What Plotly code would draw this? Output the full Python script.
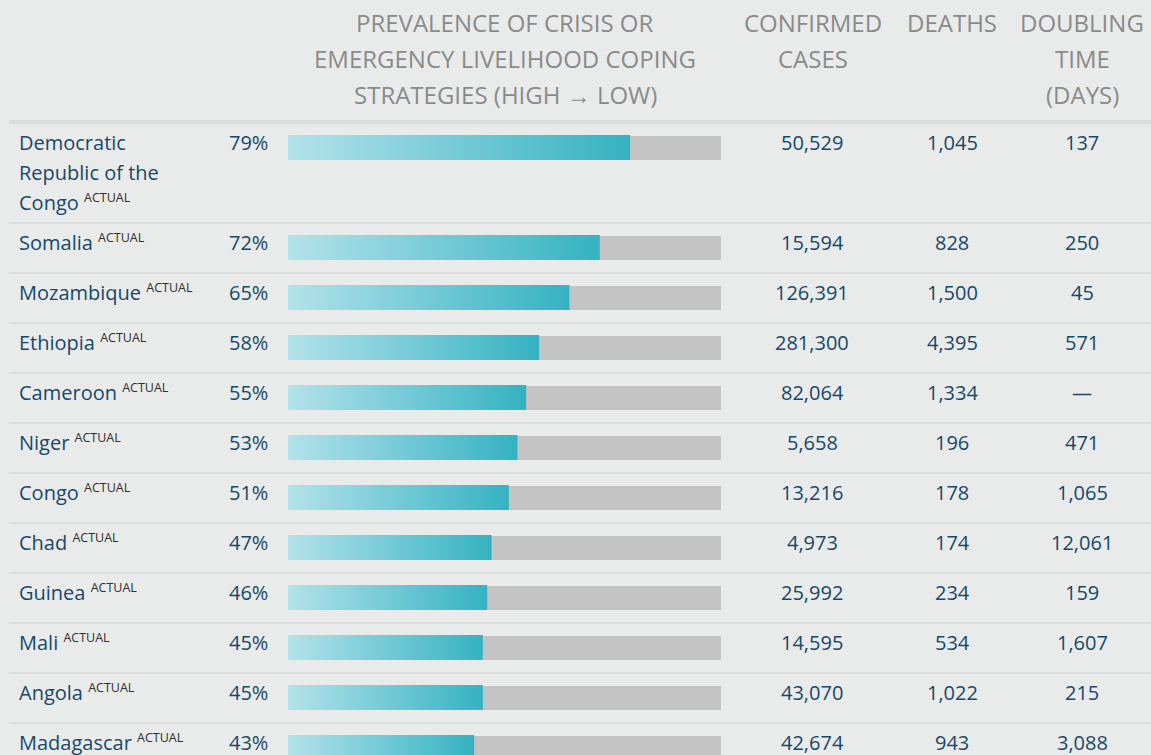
import plotly.graph_objects as go

# ---------------- data ----------------
countries = [
    "Democratic<br>Republic of the<br>Congo", "Somalia", "Mozambique", "Ethiopia",
    "Cameroon", "Niger", "Congo", "Chad", "Guinea", "Mali", "Angola", "Madagascar",
]
status = ["ACTUAL"] * 12
prevalence = [79, 72, 65, 58, 55, 53, 51, 47, 46, 45, 45, 43]
confirmed = [50529, 15594, 126391, 281300, 82064, 5658, 13216, 4973, 25992, 14595, 43070, 42674]
deaths = [1045, 828, 1500, 4395, 1334, 196, 178, 174, 234, 534, 1022, 943]
doubling = [137, 250, 45, 571, None, 471, 1065, 12061, 159, 1607, 215, 3088]

header_prev = ["PREVALENCE OF CRISIS OR", "EMERGENCY LIVELIHOOD COPING", "STRATEGIES (HIGH \u2192 LOW)"]
header_cases = ["CONFIRMED", "CASES"]
header_deaths = ["DEATHS"]
header_doubling = ["DOUBLING", "TIME", "(DAYS)"]

# ---------------- style / layout ----------------
W, H = 1151, 755
BG = "#e9ebea"
SEP = "#dcdcdc"
TRACK = "#c4c4c4"
NAVY = "#17486a"
HEAD = "#8a8a8a"
SUPC = "#2e2e2e"
FONT = "Open Sans"

fig = go.Figure()

# row geometry (pixel units on a reversed y axis)
HEADER_SEP_TOP, HEADER_SEP_BOT = 120, 124
LINE_H = 30
row_tops = []
row_bots = []
top = HEADER_SEP_BOT
for name in countries:
    n_lines = name.count("<br>") + 1
    h = max(48, 38 + LINE_H * (n_lines - 1))
    row_tops.append(top)
    row_bots.append(top + h)
    top = top + h + 2

shapes = [dict(type="rect", xref="paper", yref="y", x0=9 / W, x1=1,
               y0=HEADER_SEP_TOP, y1=HEADER_SEP_BOT, fillcolor=SEP, line_width=0, layer="below")]
for b in row_bots:
    shapes.append(dict(type="rect", xref="paper", yref="y", x0=9 / W, x1=1,
                       y0=b, y1=b + 2, fillcolor=SEP, line_width=0, layer="below"))

# grey track bars (full scale 100%), spanning t+12 .. t+36
fig.add_trace(go.Bar(
    x=[100] * len(countries), y=[t + 24 for t in row_tops], base=0,
    orientation="h", width=24, marker=dict(color=TRACK, line_width=0),
    hoverinfo="skip", showlegend=False,
))

# gradient value bars, spanning t+11 .. t+36
for t, v in zip(row_tops, prevalence):
    y0, y1 = t + 11, t + 36
    fig.add_trace(go.Scatter(
        x=[0, v, v, 0, 0], y=[y0, y0, y1, y1, y0],
        mode="lines", fill="toself", line=dict(width=0, color="rgba(0,0,0,0)"),
        fillgradient=dict(type="horizontal",
                          colorscale=[[0, "#b3e2ea"], [1, "#35b2c2"]]),
        hoverinfo="skip", showlegend=False,
    ))

annotations = []

def ann(x, y, text, anchor="center", size=20, color=NAVY):
    annotations.append(dict(
        xref="paper", yref="y", x=x / W, y=y, text=text, showarrow=False,
        xanchor=anchor, yanchor="middle", borderpad=0, borderwidth=0,
        font=dict(family=FONT, size=size, color=color),
    ))

# headers
for i, line in enumerate(header_prev):
    ann(505, 22 + 36 * i, line, size=24, color=HEAD)
for i, line in enumerate(header_cases):
    ann(813, 22 + 36 * i, line, size=24, color=HEAD)
for i, line in enumerate(header_deaths):
    ann(952, 22 + 36 * i, line, size=24, color=HEAD)
for i, line in enumerate(header_doubling):
    ann(1082, 22 + 36 * i, line, size=24, color=HEAD)

sup = '<sup><span style="font-size:12.5px;color:%s">%s</span></sup>'
for t, name, st, p, c, d, dt in zip(row_tops, countries, status, prevalence, confirmed, deaths, doubling):
    yc = t + 18
    lines = name.split("<br>")
    for j, ln in enumerate(lines):
        txt = ln
        if j == len(lines) - 1:
            txt = ln + " " + sup % (SUPC, st)
        ann(19, yc + LINE_H * j, txt, anchor="left")
    ann(268, yc, f"{p}%", anchor="right")
    ann(812, yc, f"{c:,}")
    ann(952, yc, f"{d:,}")
    ann(1082, yc, "\u2014" if dt is None else f"{dt:,}")

fig.update_layout(
    width=W, height=H,
    margin=dict(l=0, r=0, t=0, b=0, pad=0),
    paper_bgcolor=BG, plot_bgcolor=BG,
    xaxis=dict(domain=[288 / W, 721 / W], range=[0, 100], visible=False, fixedrange=True),
    yaxis=dict(domain=[0, 1], range=[H, 0], visible=False, fixedrange=True),
    shapes=shapes, annotations=annotations,
    showlegend=False, barmode="overlay",
    font=dict(family=FONT),
)

fig.write_html("out.html", config={"displayModeBar": False},
               post_script="document.body.style.margin='0';document.body.style.overflow='hidden';")
